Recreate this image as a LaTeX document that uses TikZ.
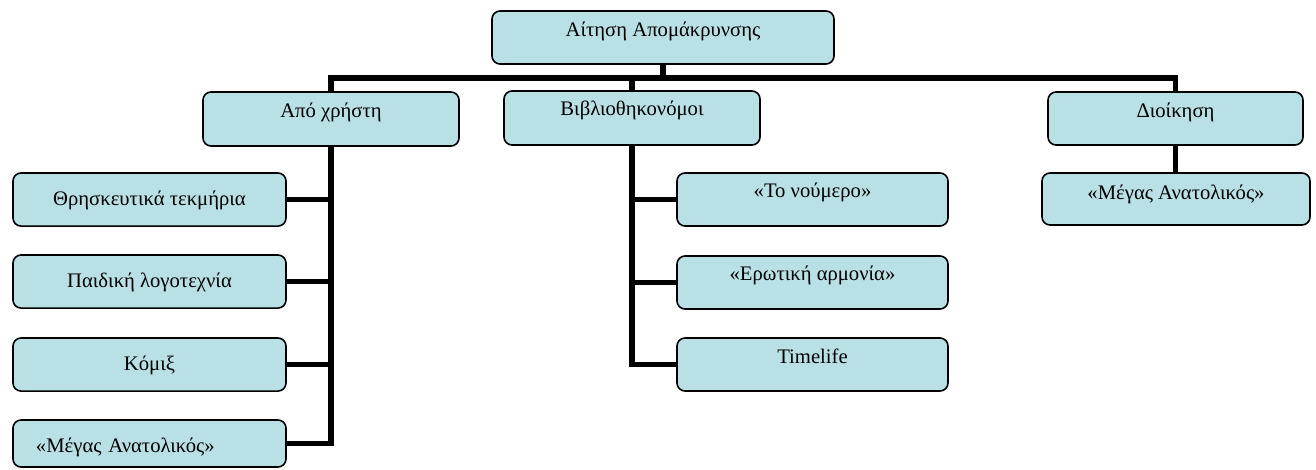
\documentclass[tikz,border=0pt]{standalone}
\usepackage{fontspec}
\setmainfont{Liberation Serif}
\usetikzlibrary{backgrounds}
\definecolor{boxfill}{RGB}{185,224,228}
\begin{document}
\begin{tikzpicture}[x=0.75pt,y=-0.75pt,
  box/.style={draw=black, fill=boxfill, line width=1.2pt, rounded corners=6pt,
    inner ysep=0pt, inner xsep=0pt, outer sep=0pt, anchor=north west,
    font=\fontsize{15.5}{18}\selectfont},
  conn/.style={line width=3.9pt, line cap=rect, line join=miter}]
\useasboundingbox (0,0) rectangle (1316,470);
% top level
\node[box, minimum width=256.5pt, text height=19.5pt, text depth=20.25pt] (root) at (492,11) {Αίτηση Απομάκρυνσης};
% second level
\node[box, minimum width=192pt, text height=19.5pt, text depth=21pt] (apo) at (203,92) {Από χρήστη};
\node[box, minimum width=192pt, text height=18.75pt, text depth=21.75pt] (vivlio) at (504,91) {Βιβλιοθηκονόμοι};
\node[box, minimum width=191.25pt, text height=19.5pt, text depth=20.25pt] (dioik) at (1048,92) {Διοίκηση};
% left children
\node[box, minimum width=204.75pt, text height=24.4pt, text depth=15.4pt] (l1) at (13,173) {Θρησκευτικά τεκμήρια};
\node[box, minimum width=204.75pt, text height=24.4pt, text depth=15.4pt] (l2) at (13,255) {Παιδική λογοτεχνία};
\node[box, minimum width=204.75pt, text height=24.4pt, text depth=15.4pt] (l3) at (13,338) {Κόμιξ};
\node[box, text width=170.25pt, align=left, inner xsep=17.25pt, text height=24pt, text depth=11.25pt] (l4) at (13,420) {«Μέγας Ανατολικός»};
% middle children
\node[box, minimum width=203.25pt, text height=18.75pt, text depth=21pt] (m1) at (677,173) {«Το νούμερο»};
\node[box, minimum width=203.25pt, text height=18.75pt, text depth=21pt] (m2) at (677,256) {«Ερωτική αρμονία»};
\node[box, minimum width=203.25pt, text height=18.75pt, text depth=21pt] (m3) at (677,338) {Timelife};
% right child
\node[box, minimum width=201pt, text height=20.25pt, text depth=18.75pt] (r1) at (1042,173) {«Μέγας Ανατολικός»};
% connectors
\coordinate (busL) at (331,78);
\coordinate (busR) at (1175.5,78);
\begin{pgfonlayer}{background}
\draw[conn] (busL) -- (busR);
\draw[conn] (root.south) -- (root.south |- busL);
\draw[conn] (apo.north |- busL) -- (apo.north);
\draw[conn] (vivlio.north |- busL) -- (vivlio.north);
\draw[conn] (dioik.north |- busR) -- (dioik.north);
\draw[conn] (apo.south) |- (l4.east);
\draw[conn] (l1.east) -- (l1.east -| apo.south);
\draw[conn] (l2.east) -- (l2.east -| apo.south);
\draw[conn] (l3.east) -- (l3.east -| apo.south);
\draw[conn] (vivlio.south) |- (m3.west);
\draw[conn] (m1.west) -- (m1.west -| vivlio.south);
\draw[conn] (m2.west) -- (m2.west -| vivlio.south);
\draw[conn] (dioik.south) -- (dioik.south |- r1.north);
\end{pgfonlayer}
\end{tikzpicture}
\end{document}
